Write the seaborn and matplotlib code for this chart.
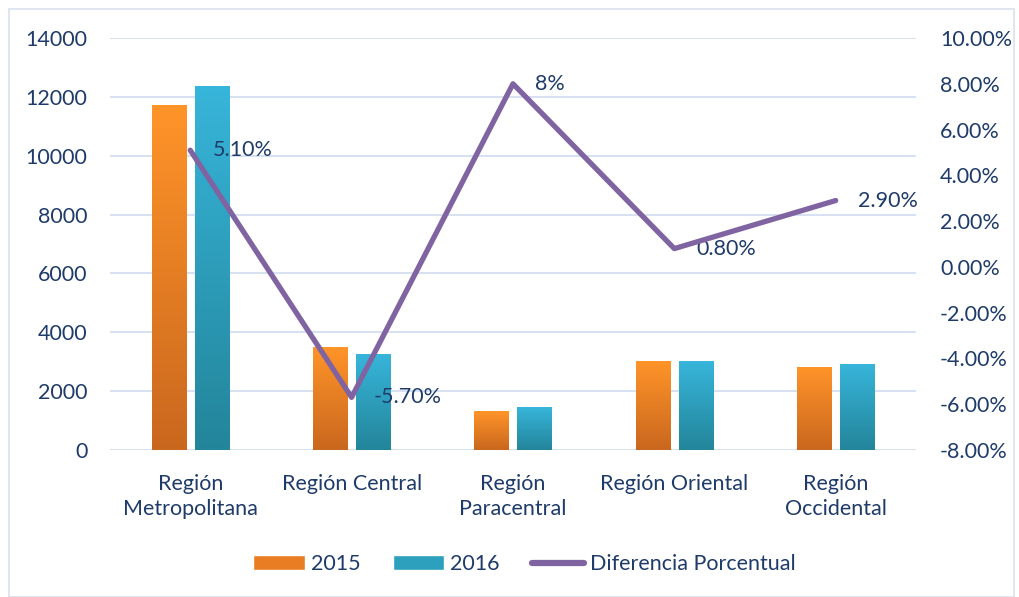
import numpy as np
import pandas as pd
import seaborn as sns
import matplotlib.pyplot as plt
from matplotlib.patches import Patch, Rectangle
from matplotlib.lines import Line2D
from matplotlib.colors import LinearSegmentedColormap

# Data
regions = ["Región\nMetropolitana", "Región Central", "Región\nParacentral",
           "Región Oriental", "Región\nOccidental"]
values_2015 = [11720, 3470, 1320, 3000, 2790]
values_2016 = [12340, 3260, 1460, 3000, 2890]
diff_pct = [5.10, -5.70, 8.0, 0.80, 2.90]
diff_labels = ["5.10%", "-5.70%", "8%", "0.80%", "2.90%"]

text_color = "#1F3B6A"
grid_color = "#D6E1F2"
grad_2015 = ("#FF9429", "#C9671E")
grad_2016 = ("#37B5DA", "#23859A")
line_color = "#8064A2"
fs = 15.5

df = pd.DataFrame({
    "region": regions * 2,
    "year": ["2015"] * 5 + ["2016"] * 5,
    "value": values_2015 + values_2016,
})

sns.set_style("white")
plt.rcParams["font.family"] = ["Lato", "DejaVu Sans"]

fig = plt.figure(figsize=(10.2, 5.97), dpi=100)
ax = fig.add_axes([0.1074, 0.2462, 0.791, 0.6901])

sns.barplot(data=df, x="region", y="value", hue="year",
            palette=[grad_2015[0], grad_2016[0]], width=0.53, gap=0.2,
            saturation=1, legend=False, ax=ax)

ax.set_ylim(0, 14000)
ax.set_xlim(-0.5, 4.5)
ax.set_yticks(np.arange(0, 14001, 2000))
ax.yaxis.grid(True, color=grid_color, linewidth=1.4)
ax.set_axisbelow(True)
for s in ax.spines.values():
    s.set_visible(False)
ax.set_xlabel("")
ax.set_ylabel("")
ax.tick_params(axis="y", length=0, pad=16, labelsize=fs, labelcolor=text_color)
ax.tick_params(axis="x", length=0, pad=17, labelsize=fs, labelcolor=text_color)
for t in ax.get_xticklabels():
    t.set_linespacing(1.35)

# gradient fill for each bar (seaborn draws 2015 bars first, then 2016)
bars = [p for p in ax.patches if p.get_height() > 0]
for k, bar in enumerate(bars):
    x0, y0 = bar.get_x(), bar.get_y()
    w, h = bar.get_width(), bar.get_height()
    top, bottom = grad_2015 if k < len(values_2015) else grad_2016
    cmap = LinearSegmentedColormap.from_list("g", [bottom, top])
    grad = np.linspace(0, 1, 256).reshape(-1, 1)
    # soft shadow under the bar
    ax.add_patch(Rectangle((x0 + 0.004, y0 - 60), w, h, facecolor="#9A9A9A",
                           alpha=0.35, edgecolor="none", zorder=1.9))
    ax.imshow(grad, cmap=cmap, origin="lower", aspect="auto",
              extent=(x0, x0 + w, y0, y0 + h), zorder=2)
    bar.set_visible(False)
ax.set_xlim(-0.5, 4.5)
ax.set_ylim(0, 14000)

# percentage difference on the secondary axis
ax2 = ax.twinx()
sns.lineplot(x=np.arange(len(diff_pct)), y=diff_pct, ax=ax2,
             color=line_color, linewidth=3.8, zorder=5)
ax2.set_ylim(-8, 10)
ax2.set_yticks(np.arange(-8, 10.1, 2))
ax2.set_yticklabels([f"{v:.2f}%" for v in np.arange(-8, 10.1, 2)])
ax2.tick_params(axis="y", length=0, pad=17, labelsize=fs, labelcolor=text_color)
for s in ax2.spines.values():
    s.set_visible(False)
ax2.set_ylabel("")
ax2.grid(False)
for i, (v, lab) in enumerate(zip(diff_pct, diff_labels)):
    ax2.annotate(lab, (i, v), xytext=(16, 0), textcoords="offset points",
                 ha="left", va="center", fontsize=fs, color=text_color)

handles = [Patch(facecolor="#E87D24", label="2015"),
           Patch(facecolor="#2DA0BD", label="2016"),
           Line2D([0], [0], color=line_color, linewidth=4.5,
                  solid_capstyle="round", label="Diferencia Porcentual")]
fig.legend(handles=handles, loc="center", bbox_to_anchor=(0.514, 0.055),
           ncol=3, frameon=False, fontsize=fs, labelcolor=text_color,
           handlelength=2.4, handleheight=0.65, handletextpad=0.28,
           columnspacing=1.5)

fig.patches.append(Rectangle((0.009, 0.0), 0.985, 0.985, transform=fig.transFigure,
                             fill=False, edgecolor="#D9E2F0", linewidth=1.2))

fig.savefig("out.png", dpi=100)
